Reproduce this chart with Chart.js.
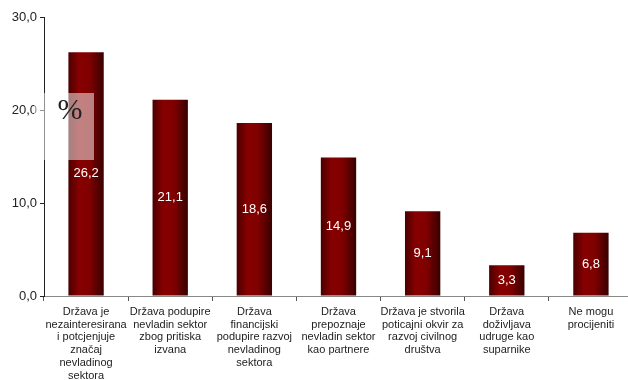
<!DOCTYPE html>
<html>
<head>
<meta charset="utf-8">
<script src="https://cdn.jsdelivr.net/npm/chart.js@4/dist/chart.umd.min.js"></script>
<style>
  html, body { margin: 0; padding: 0; background: #fff; overflow: hidden; }
  #wrap { width: 628px; height: 380px; overflow: hidden; }
</style>
</head>
<body>
<div id="wrap"><canvas id="chart" width="633" height="380"></canvas></div>
<script>
// categories and values
const categories = [
  ['Država je', 'nezainteresirana', 'i potcjenjuje', 'značaj', 'nevladinog', 'sektora'],
  ['Država podupire', 'nevladin sektor', 'zbog pritiska', 'izvana'],
  ['Država', 'financijski', 'podupire razvoj', 'nevladinog', 'sektora'],
  ['Država', 'prepoznaje', 'nevladin sektor', 'kao partnere'],
  ['Država je stvorila', 'poticajni okvir za', 'razvoj civilnog', 'društva'],
  ['Država', 'doživljava', 'udruge kao', 'suparnike'],
  ['Ne mogu', 'procijeniti']
];
const values = [26.2, 21.1, 18.6, 14.9, 9.1, 3.3, 6.8];
const yTicks = [0, 10, 20, 30];
const barShare = 0.42;

function fmt(v) {
  return v.toFixed(1).replace('.', ',');
}

// horizontal shading, one gradient per bar
function barFill(ctx) {
  const chart = ctx.chart;
  const xs = chart.scales.x;
  if (!chart.chartArea || !xs) return '#800000';
  const w = xs.width / categories.length * barShare;
  const left = xs.getPixelForValue(ctx.dataIndex) - w / 2;
  const g = chart.ctx.createLinearGradient(left, 0, left + w, 0);
  g.addColorStop(0, '#4a0000');
  g.addColorStop(0.3, '#870000');
  g.addColorStop(0.6, '#800000');
  g.addColorStop(1, '#380000');
  return g;
}

// value labels and the "%" box
const extras = {
  id: 'extras',
  afterDatasetsDraw(chart) {
    const c = chart.ctx;
    c.save();
    c.font = '13px "Liberation Sans", Arial, sans-serif';
    c.fillStyle = '#ffffff';
    c.textAlign = 'center';
    c.textBaseline = 'middle';
    chart.getDatasetMeta(0).data.forEach((bar, i) => {
      c.fillText(fmt(values[i]), bar.x, (bar.y + bar.base) / 2);
    });
    c.restore();
  },
  afterDraw(chart) {
    const c = chart.ctx;
    c.save();
    c.fillStyle = 'rgba(255,255,255,0.5)';
    c.fillRect(34, 93, 60, 67);
    c.font = '30px "Liberation Serif", "Times New Roman", serif';
    c.fillStyle = '#222';
    c.textAlign = 'center';
    c.textBaseline = 'middle';
    c.fillText('%', 70, 111);
    c.restore();
  }
};

new Chart(document.getElementById('chart'), {
  type: 'bar',
  data: {
    labels: categories,
    datasets: [{
      data: values,
      backgroundColor: barFill,
      borderWidth: 0,
      barPercentage: barShare,
      categoryPercentage: 1
    }]
  },
  options: {
    responsive: false,
    animation: false,
    layout: { padding: { top: 17, right: 0, left: 0, bottom: 0 } },
    plugins: {
      legend: { display: false },
      tooltip: { enabled: false }
    },
    scales: {
      x: {
        grid: {
          display: true,
          drawOnChartArea: false,
          offset: true,
          color: '#555',
          tickLength: 5
        },
        border: { color: '#888', width: 1 },
        ticks: {
          color: '#222',
          font: { family: '"Liberation Sans", Arial, sans-serif', size: 11, lineHeight: 1.18 },
          maxRotation: 0,
          autoSkip: false,
          padding: 4
        },
        afterFit(scale) { scale.height = 84; }
      },
      y: {
        min: 0,
        max: 30,
        afterBuildTicks(scale) { scale.ticks = yTicks.map(v => ({ value: v })); },
        grid: {
          display: true,
          drawOnChartArea: false,
          color: '#222',
          tickLength: 4
        },
        border: { color: '#222', width: 1 },
        ticks: {
          color: '#222',
          font: { family: '"Liberation Sans", Arial, sans-serif', size: 13 },
          padding: 3,
          callback: v => fmt(v)
        },
        afterFit(scale) { scale.width = 44; }
      }
    }
  }
  , plugins: [extras]
});
</script>
</body>
</html>
